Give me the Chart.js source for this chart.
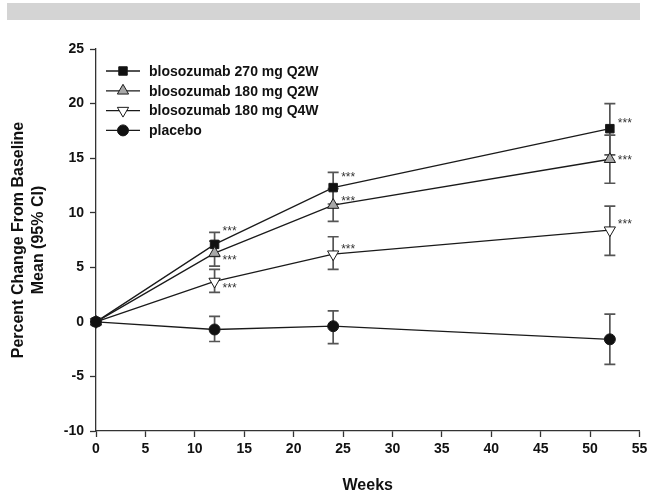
<!DOCTYPE html>
<html>
<head>
<meta charset="utf-8">
<script src="https://cdn.jsdelivr.net/npm/chart.js@4/dist/chart.umd.min.js"></script>
<style>
  body { margin: 0; background: #fff; }
  #wrap { width: 647px; height: 495px; }
</style>
</head>
<body>
<div id="wrap"><canvas id="blosoChart" width="647" height="495"></canvas></div>
<script>
// data
const weeks = [0, 12, 24, 52];
const seriesNames = ['blosozumab 270 mg Q2W', 'blosozumab 180 mg Q2W', 'blosozumab 180 mg Q4W', 'placebo'];

const mean270q2w = [0, 7.1, 12.3, 17.7];
const low270q2w = [0, 6.0, 10.8, 15.3];
const high270q2w = [0, 8.2, 13.7, 20.0];

const mean180q2w = [0, 6.3, 10.7, 14.9];
const low180q2w = [0, 5.1, 9.2, 12.7];
const high180q2w = [0, 7.4, 12.2, 17.1];

const mean180q4w = [0, 3.7, 6.2, 8.4];
const low180q4w = [0, 2.7, 4.8, 6.1];
const high180q4w = [0, 4.8, 7.8, 10.6];

const meanPlacebo = [0, -0.7, -0.4, -1.6];
const lowPlacebo = [0, -1.8, -2.0, -3.9];
const highPlacebo = [0, 0.5, 1.0, 0.7];

// significance markers (index into weeks), pixel nudge for the label
const stars = '***';
const starOffsets = [
    [0, -16, -13, -8],
    [0, 5, -6, -2],
    [0, 4, -8, -8],
    null
];

const xTicks = [0, 5, 10, 15, 20, 25, 30, 35, 40, 45, 50, 55];
const yTicks = [-10, -5, 0, 5, 10, 15, 20, 25];

const FONT = "'Liberation Sans', Arial, sans-serif";
const INK = '#1a1a1a';
const BAR = '#555555';

const means = [mean270q2w, mean180q2w, mean180q4w, meanPlacebo];
const lows = [low270q2w, low180q2w, low180q4w, lowPlacebo];
const highs = [high270q2w, high180q2w, high180q4w, highPlacebo];

const markerStyle = [
    { pointStyle: 'rect', bg: '#111111', radius: 6, rotation: 0 },
    { pointStyle: 'triangle', bg: '#a8a8a8', radius: 6.5, rotation: 0 },
    { pointStyle: 'triangle', bg: '#ffffff', radius: 6.5, rotation: 180 },
    { pointStyle: 'circle', bg: '#111111', radius: 5.5, rotation: 0 }
];

const datasets = means.map((m, i) => ({
    label: seriesNames[i],
    data: weeks.map((w, j) => ({ x: w, y: m[j] })),
    borderColor: INK,
    borderWidth: 1.3,
    pointStyle: markerStyle[i].pointStyle,
    pointRotation: markerStyle[i].rotation,
    pointRadius: markerStyle[i].radius,
    pointBackgroundColor: markerStyle[i].bg,
    pointBorderColor: INK,
    pointBorderWidth: 1,
    clip: false,
    order: 3 - i
}));

// grey strip across the top of the figure
const bannerPlugin = {
    id: 'banner',
    beforeDraw(chart) {
        const ctx = chart.ctx;
        ctx.save();
        ctx.fillStyle = '#d4d4d4';
        ctx.fillRect(7, 3, 633, 17);
        ctx.restore();
    }
};

// 95% CI whiskers, drawn under the markers
const errorBarPlugin = {
    id: 'errorBars',
    beforeDatasetsDraw(chart) {
        const ctx = chart.ctx;
        const xs = chart.scales.x, ys = chart.scales.y;
        ctx.save();
        ctx.strokeStyle = BAR;
        ctx.lineWidth = 1.7;
        means.forEach((m, i) => {
            weeks.forEach((w, j) => {
                if (w === 0) return;
                const px = xs.getPixelForValue(w);
                const top = ys.getPixelForValue(highs[i][j]);
                const bot = ys.getPixelForValue(lows[i][j]);
                ctx.beginPath();
                ctx.moveTo(px, top); ctx.lineTo(px, bot);
                ctx.moveTo(px - 5.5, top); ctx.lineTo(px + 5.5, top);
                ctx.moveTo(px - 5.5, bot); ctx.lineTo(px + 5.5, bot);
                ctx.stroke();
            });
        });
        ctx.restore();
    }
};

// *** labels and the line+marker legend
const overlayPlugin = {
    id: 'overlay',
    afterDatasetsDraw(chart) {
        const ctx = chart.ctx;
        const xs = chart.scales.x, ys = chart.scales.y;
        ctx.save();
        ctx.fillStyle = '#333';
        ctx.font = '12px ' + FONT;
        ctx.textBaseline = 'middle';
        starOffsets.forEach((offs, i) => {
            if (!offs) return;
            weeks.forEach((w, j) => {
                if (w === 0) return;
                const px = xs.getPixelForValue(w) + 8;
                const py = ys.getPixelForValue(means[i][j]) + offs[j] + 3;
                ctx.fillText(stars, px, py);
            });
        });

        // legend
        const area = chart.chartArea;
        const x0 = area.left + 10;
        datasets.forEach((ds, i) => {
            const y = area.top + 22 + i * 19.8;
            ctx.strokeStyle = INK;
            ctx.lineWidth = 1.3;
            ctx.beginPath();
            ctx.moveTo(x0, y); ctx.lineTo(x0 + 34, y);
            ctx.stroke();
            ctx.fillStyle = ds.pointBackgroundColor;
            ctx.strokeStyle = INK;
            ctx.lineWidth = 1;
            Chart.helpers.drawPoint(ctx, {
                pointStyle: ds.pointStyle,
                rotation: ds.pointRotation,
                radius: ds.pointRadius,
                borderWidth: 1
            }, x0 + 17, y);
            ctx.fillStyle = '#111';
            ctx.font = 'bold 14px ' + FONT;
            ctx.fillText(ds.label, x0 + 43, y + 1);
        });
        ctx.restore();
    }
};

const ctx = document.getElementById('blosoChart').getContext('2d');
const blosoChart = new Chart(ctx, {
    type: 'line',
    data: { datasets: datasets },
    plugins: [bannerPlugin, errorBarPlugin, overlayPlugin],
    options: {
        responsive: false,
        animation: false,
        layout: { padding: { top: 49, right: 0, bottom: 0, left: 0 } },
        plugins: {
            legend: { display: false },
            tooltip: { enabled: false }
        },
        scales: {
            x: {
                type: 'linear',
                min: 0,
                max: 55,
                afterFit(scale) {
                    scale.height = 64;
                    scale.paddingLeft = 0;
                    scale.paddingRight = 7;
                },
                afterBuildTicks(scale) { scale.ticks = xTicks.map(v => ({ value: v })); },
                grid: { drawOnChartArea: false, drawTicks: true, tickLength: 6, color: '#333', tickWidth: 1.3 },
                border: { display: true, color: '#333', width: 1.3 },
                ticks: { color: '#111', padding: 4, maxRotation: 0, font: { family: FONT, size: 14, weight: 'bold' } },
                title: {
                    display: true,
                    text: 'Weeks',
                    color: '#111',
                    padding: { top: 0, bottom: 0 },
                    font: { family: FONT, size: 16, weight: 'bold' }
                }
            },
            y: {
                min: -10,
                max: 25,
                afterFit(scale) { scale.width = 96; },
                afterBuildTicks(scale) { scale.ticks = yTicks.map(v => ({ value: v })); },
                grid: { drawOnChartArea: false, drawTicks: true, tickLength: 6, color: '#333', tickWidth: 1.3 },
                border: { display: true, color: '#333', width: 1.3 },
                ticks: { color: '#111', padding: 6, font: { family: FONT, size: 14, weight: 'bold' } },
                title: {
                    display: true,
                    text: ['Percent Change From Baseline', 'Mean (95% CI)'],
                    color: '#111',
                    padding: { top: 9, bottom: 0 },
                    font: { family: FONT, size: 16, weight: 'bold', lineHeight: 1.25 }
                }
            }
        }
    }
});
</script>
</body>
</html>
